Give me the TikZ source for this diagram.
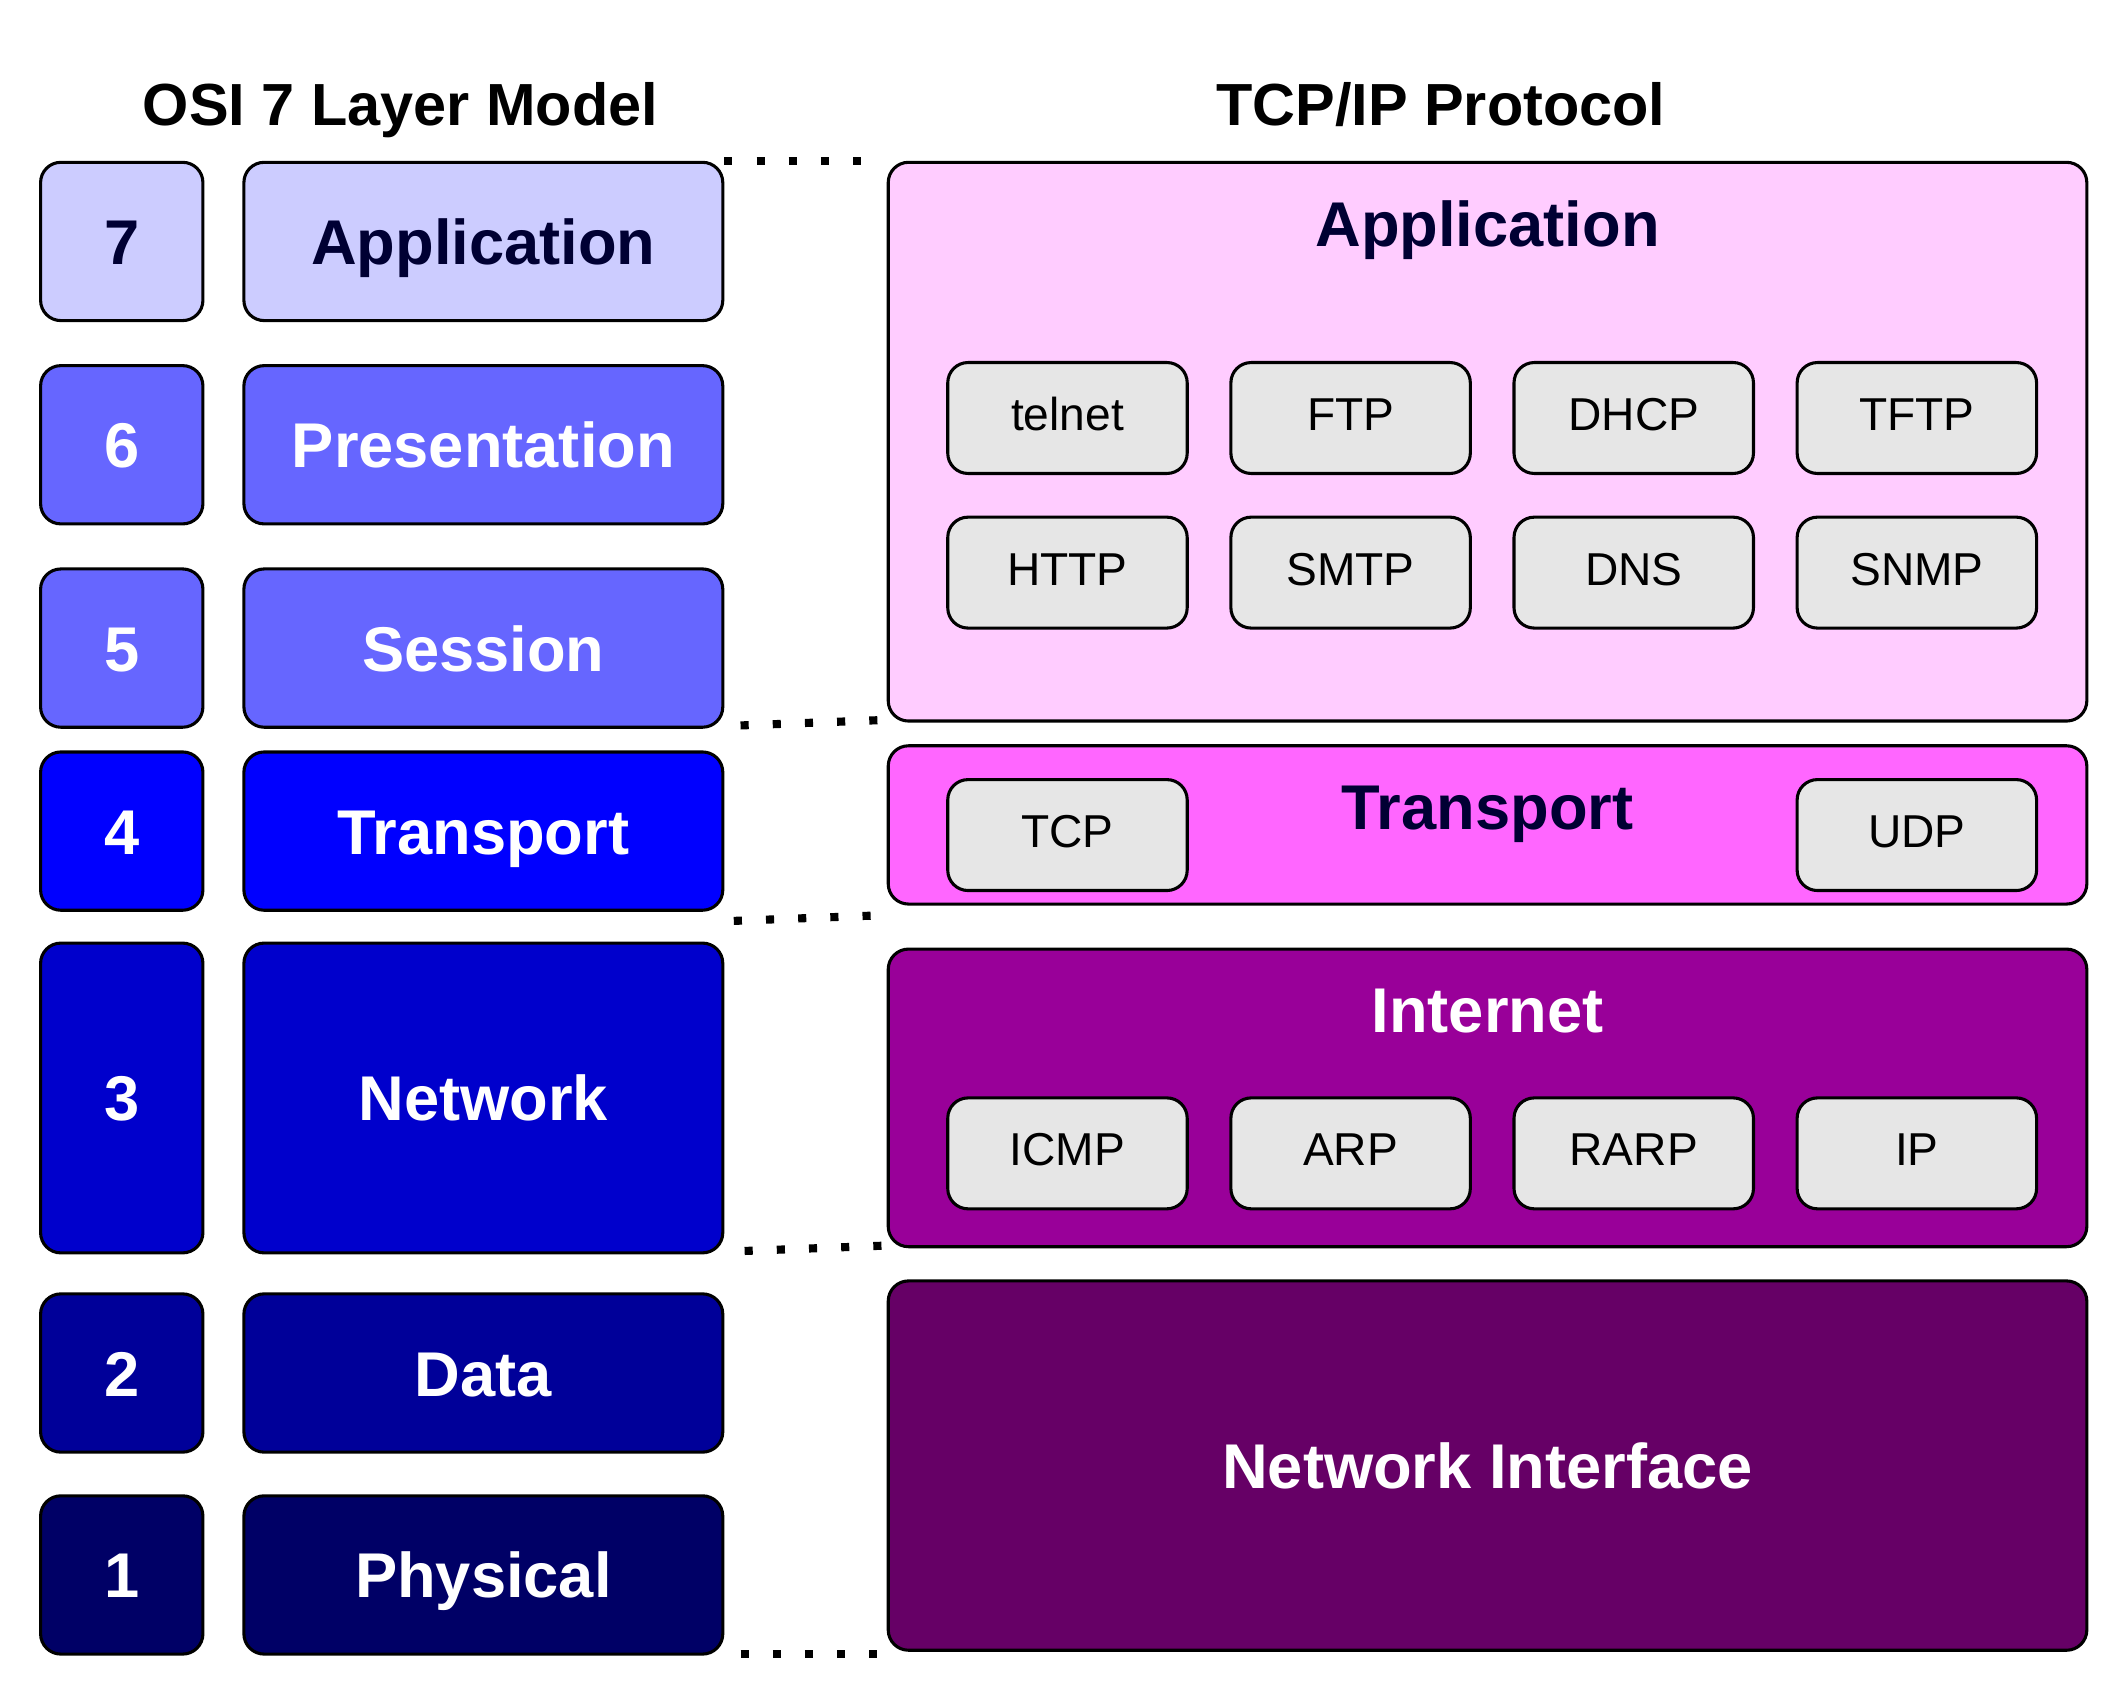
\documentclass[tikz,border=0pt]{standalone}
\usepackage{fontspec}
\setmainfont{Liberation Sans}
\usetikzlibrary{positioning}

\definecolor{osiseven}{HTML}{CCCCFF}
\definecolor{osisix}{HTML}{6666FF}
\definecolor{osifour}{HTML}{0000FF}
\definecolor{osithree}{HTML}{0000CC}
\definecolor{ositwo}{HTML}{000099}
\definecolor{osione}{HTML}{000066}
\definecolor{tcpapp}{HTML}{FFCCFF}
\definecolor{tcptrans}{HTML}{FF66FF}
\definecolor{tcpinet}{HTML}{990099}
\definecolor{tcpni}{HTML}{660066}
\definecolor{darktext}{HTML}{000033}
\definecolor{protogray}{HTML}{E6E6E6}

\begin{document}
\begin{tikzpicture}[
            x=1mm, y=-1mm,
            numbox/.style={rectangle, draw, line width=0.65pt, rounded corners=1.5mm, minimum width=12mm, minimum height=11.7mm, inner sep=0pt, text=white, font=\fontsize{13.3}{16}\selectfont\bfseries, text height=3.4mm, text depth=0pt},
            layerbox/.style={numbox, minimum width=35.4mm},
            tcpbox/.style={numbox, minimum width=88.6mm},
            layertitle/.style={font=\fontsize{13.3}{16}\selectfont\bfseries, anchor=base, inner sep=0pt},
            heading/.style={font=\fontsize{12.5}{15}\selectfont\bfseries, anchor=base, inner sep=0pt},
            protobox/.style={rectangle, draw, line width=0.65pt, rounded corners=1.5mm, fill=protogray, minimum width=17.7mm, minimum height=8.2mm, inner sep=0pt, font=\fontsize{9.7}{12}\selectfont, text height=2.45mm, text depth=0.6mm},
            dotline/.style={line width=0.6mm, dash pattern=on 0.6mm off 1.78mm}
            ]
            \useasboundingbox (0,0) rectangle (157.3,124.48);

            % Headings
            \node[heading] (osihead) at (29.6,9.3) {OSI 7 Layer Model};
            \node[heading] (tcphead) at (106.5,9.3) {TCP/IP Protocol};

            % OSI layer numbers
            \node[numbox, fill=osiseven, text=darktext] (n7) at (9,17.85) {7};
            \node[numbox, fill=osisix, below=3.1mm of n7] (n6) {6};
            \node[numbox, fill=osisix, below=3.1mm of n6] (n5) {5};
            \node[numbox, fill=osifour, below=1.6mm of n5] (n4) {4};
            \node[numbox, fill=osithree, minimum height=22.9mm, below=2.2mm of n4] (n3) {3};
            \node[numbox, fill=ositwo, below=2.8mm of n3] (n2) {2};
            \node[numbox, fill=osione, below=3mm of n2] (n1) {1};

            % OSI layer names
            \node[layerbox, fill=osiseven, text=darktext, right=2.8mm of n7] (l7) {Application};
            \node[layerbox, fill=osisix, right=2.8mm of n6] (l6) {Presentation};
            \node[layerbox, fill=osisix, right=2.8mm of n5] (l5) {Session};
            \node[layerbox, fill=osifour, right=2.8mm of n4] (l4) {Transport};
            \node[layerbox, fill=osithree, minimum height=22.9mm, right=2.8mm of n3] (l3) {Network};
            \node[layerbox, fill=ositwo, right=2.8mm of n2] (l2) {Data};
            \node[layerbox, fill=osione, right=2.8mm of n1] (l1) {Physical};

            % TCP/IP layers
            \node[tcpbox, fill=tcpapp, minimum height=41.3mm, right=12mm of l7.north east, anchor=north west] (tapp) {};
            \node[tcpbox, fill=tcptrans, below=1.6mm of tapp] (ttrans) {};
            \node[tcpbox, fill=tcpinet, minimum height=22mm, below=3.1mm of ttrans] (tinet) {};
            \node[tcpbox, fill=tcpni, minimum height=27.3mm, below=2.3mm of tinet] (tni) {Network Interface};

            \node[layertitle, text=darktext] (tappname) at ([yshift=-6.35mm]tapp.north) {Application};
            \node[layertitle, text=darktext] (ttransname) at ([yshift=-6.3mm]ttrans.north) {Transport};
            \node[layertitle, text=white] (tinetname) at ([yshift=-6.25mm]tinet.north) {Internet};

            % Protocols
            \node[protobox, below right=14.8mm and 4.4mm of tapp.north west] (telnet) {telnet};
            \node[protobox, right=3mm of telnet] (ftp) {FTP};
            \node[protobox, right=3mm of ftp] (dhcp) {DHCP};
            \node[protobox, right=3mm of dhcp] (tftp) {TFTP};
            \node[protobox, below=3mm of telnet] (http) {HTTP};
            \node[protobox, below=3mm of ftp] (smtp) {SMTP};
            \node[protobox, below=3mm of dhcp] (dns) {DNS};
            \node[protobox, below=3mm of tftp] (snmp) {SNMP};

            \node[protobox, below right=2.5mm and 4.4mm of ttrans.north west] (tcp) {TCP};
            \node[protobox] (udp) at (tftp |- tcp) {UDP};

            \node[protobox, below right=11mm and 4.4mm of tinet.north west] (icmp) {ICMP};
            \node[protobox] (arp) at (ftp |- icmp) {ARP};
            \node[protobox] (rarp) at (dhcp |- icmp) {RARP};
            \node[protobox] (ip) at (tftp |- icmp) {IP};

            % Dotted links
            \draw[dotline, shorten >=1mm] (l7.north east) -- (tapp.north west);
            \draw[dotline, shorten <=1.2mm] ([yshift=0.2mm]l5.south east) -- ([yshift=0.2mm]tapp.south west);
            \draw[dotline, shorten <=0.7mm] ([yshift=-0.7mm]l4.south east) -- ([yshift=-0.7mm]ttrans.south west);
            \draw[dotline, shorten <=1.5mm] ([yshift=0.2mm]l3.south east) -- ([yshift=0.2mm]tinet.south west);
            \draw[dotline, shorten <=1.2mm] ([yshift=0.1mm]l1.south east) -- ([yshift=0.1mm]l1.south east -| tni.west);

        \end{tikzpicture}
\end{document}
